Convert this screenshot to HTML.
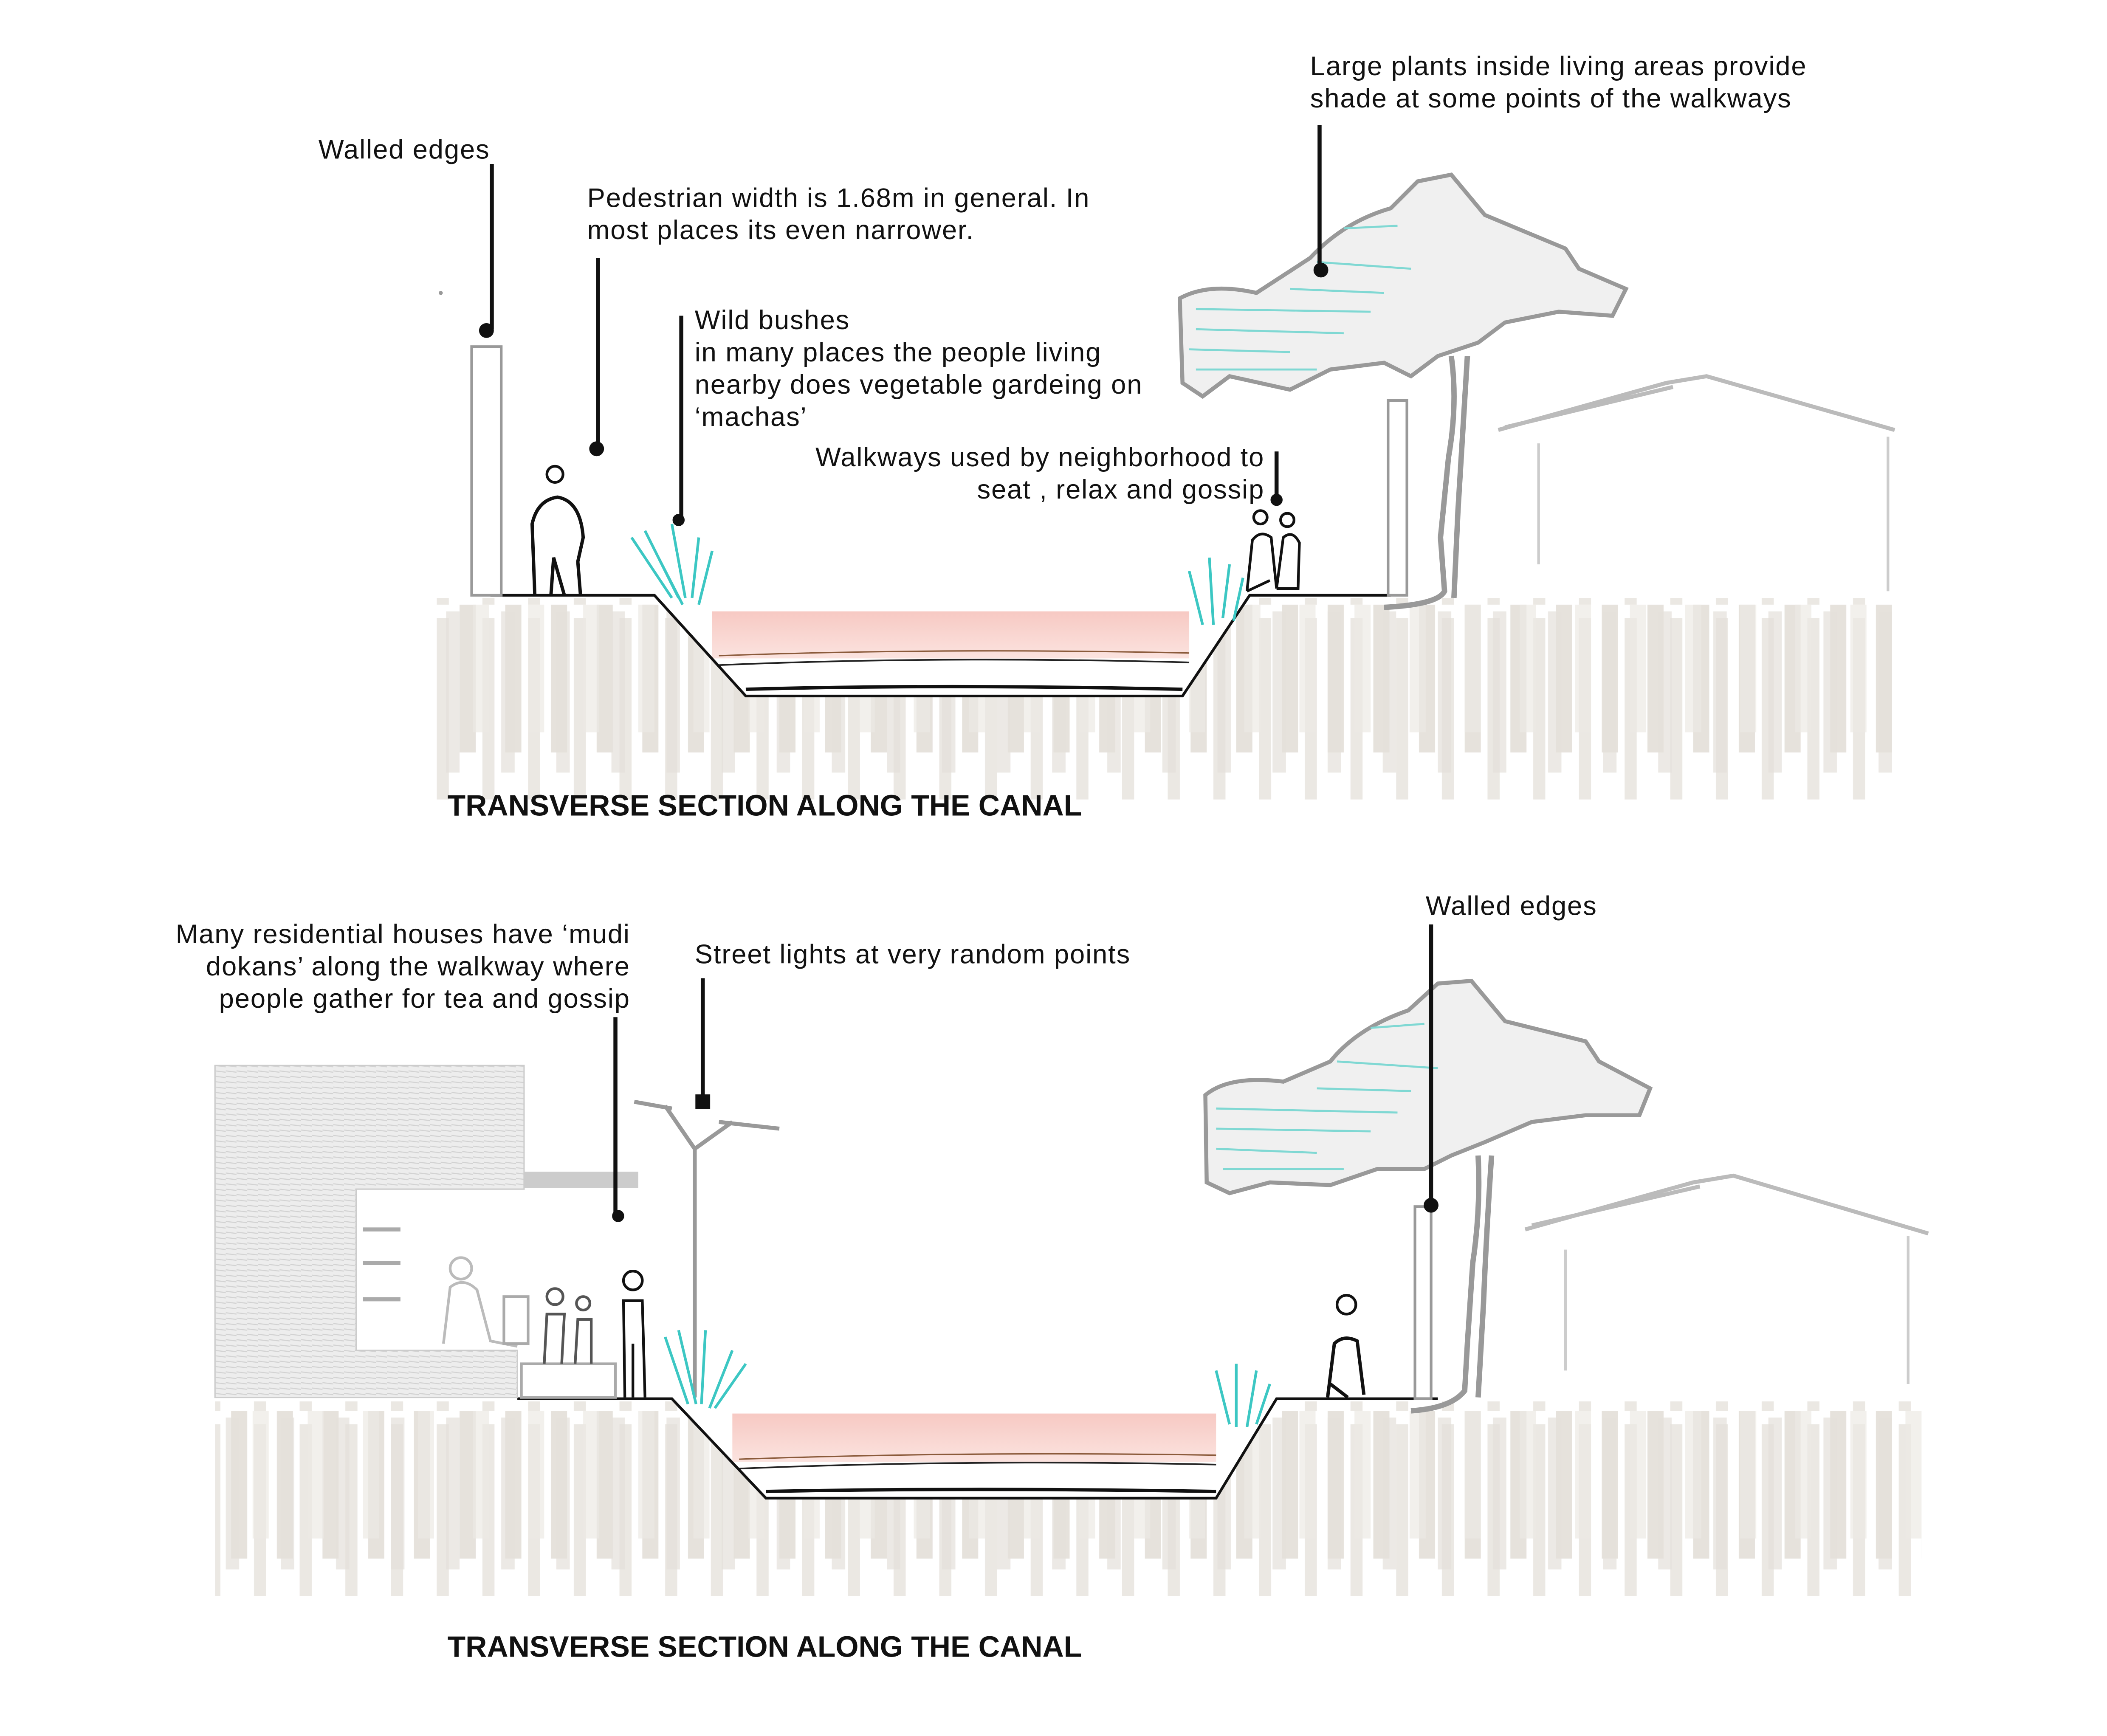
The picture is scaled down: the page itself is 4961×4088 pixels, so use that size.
<!DOCTYPE html>
<html><head><meta charset="utf-8"><style>
html,body{margin:0;padding:0;background:#fff;}
svg{display:block;}
text{font-family:"Liberation Sans",sans-serif;font-size:20px;letter-spacing:0.6px;fill:#111;}
.t{font-weight:bold;font-size:22px;letter-spacing:0;}
</style></head><body>
<svg width="4961" height="4088" viewBox="0 0 1568 1292" preserveAspectRatio="none" xmlns="http://www.w3.org/2000/svg">
<defs>
<pattern id="hatch" width="34" height="150" patternUnits="userSpaceOnUse">
<rect x="2" y="0" width="12" height="110" fill="#e6e2dc"/>
<rect x="19" y="10" width="9" height="140" fill="#ebe8e3"/>
</pattern>
<pattern id="hatch2" width="41" height="150" patternUnits="userSpaceOnUse">
<rect x="4" y="5" width="10" height="125" fill="#e4e0da"/>
<rect x="24" y="0" width="12" height="95" fill="#ece9e4"/>
</pattern>
<linearGradient id="pink" x1="0" y1="0" x2="0" y2="1">
<stop offset="0" stop-color="#f7c9c3"/><stop offset="1" stop-color="#fbe3df"/>
</linearGradient>
<pattern id="wall" width="8" height="4" patternUnits="userSpaceOnUse">
<rect width="8" height="4" fill="#ededed"/><line x1="0" y1="1" x2="8" y2="2" stroke="#d2d2d2" stroke-width="0.8"/>
</pattern>
</defs>

<!-- ===== TOP SECTION ===== -->
<rect x="325" y="445" width="1085" height="150" fill="url(#hatch)"/>
<rect x="325" y="445" width="1085" height="130" fill="url(#hatch2)" opacity="0.7"/>
<polygon points="487,443 930,443 880,518 555,518" fill="#fff"/>
<rect x="530" y="455" width="355" height="35" fill="url(#pink)"/>
<path d="M535,495 Q700,488 885,493" stroke="#222" fill="none" stroke-width="1.2"/>
<path d="M535,488 Q700,482 885,486" stroke="#8a5a3a" fill="none" stroke-width="1"/>
<path d="M555,513 Q700,509 880,513" stroke="#111" fill="none" stroke-width="2.5"/>
<polyline points="365,443 487,443 555,518 880,518 930,443 1035,443" fill="none" stroke="#111" stroke-width="2"/>
<rect x="351" y="258" width="22" height="185" fill="none" stroke="#999" stroke-width="2"/>
<circle cx="413" cy="353" r="6" fill="none" stroke="#111" stroke-width="2"/>
<path d="M398,443 L396,390 Q400,372 415,370 Q432,373 434,400 L430,418 L432,443 M410,443 L412,415 L420,443" fill="none" stroke="#111" stroke-width="2.5"/>
<g stroke="#3cc7c3" stroke-width="2" fill="none">
<path d="M470,400 L500,445 M480,395 L505,445 M500,390 L510,445 M520,400 L515,445 M530,410 L520,450 M490,415 L508,450"/>
<path d="M885,425 L895,465 M900,415 L903,465 M915,420 L910,460 M925,430 L918,462"/>
</g>
<circle cx="938" cy="385" r="5" fill="none" stroke="#111" stroke-width="2"/>
<circle cx="958" cy="387" r="5" fill="none" stroke="#111" stroke-width="2"/>
<path d="M928,440 L932,402 Q938,394 946,400 L950,438 M950,438 L955,400 Q962,394 967,404 L966,438 L950,438 M928,440 L945,432" fill="none" stroke="#111" stroke-width="2"/>
<rect x="1033" y="298" width="14" height="145" fill="none" stroke="#999" stroke-width="2"/>
<path d="M935,218 Q900,210 878,222 L880,285 L895,295 L915,280 L960,290 L990,275 L1030,270 L1050,280 L1070,265 L1100,255 L1120,240 L1160,232 L1200,235 L1210,215 L1175,200 L1165,185 L1105,160 L1080,130 L1055,135 L1035,155 Q1000,165 975,192 Z" fill="#f0f0f0" stroke="#999" stroke-width="3"/>
<g stroke="#7fd8d3" stroke-width="1.5"><path d="M890,230 L1020,232 M890,245 L1000,248 M885,260 L960,262 M890,275 L980,275 M960,215 L1030,218 M980,195 L1050,200 M1000,170 L1040,168"/></g>
<path d="M1080,265 Q1085,300 1078,340 L1072,400 L1075,440 Q1070,450 1030,452 M1092,265 Q1088,330 1085,380 L1082,445" fill="none" stroke="#999" stroke-width="4"/>
<path d="M1115,320 L1240,285 L1270,280 L1410,320 M1120,318 L1245,288" fill="none" stroke="#bbb" stroke-width="3"/>
<line x1="1145" y1="330" x2="1145" y2="420" stroke="#ccc" stroke-width="2"/>
<line x1="1405" y1="325" x2="1405" y2="440" stroke="#ccc" stroke-width="2"/>
<g stroke="#111" stroke-width="3" fill="#111">
<line x1="366" y1="122" x2="366" y2="245"/><circle cx="362" cy="246" r="4"/>
<line x1="445" y1="192" x2="445" y2="332"/><circle cx="444" cy="334" r="4"/>
<line x1="507" y1="235" x2="507" y2="385"/><circle cx="505" cy="387" r="3"/>
<line x1="950" y1="336" x2="950" y2="372"/><circle cx="950" cy="372" r="3"/>
<line x1="982" y1="93" x2="982" y2="200"/><circle cx="983" cy="201" r="4"/>
</g>
<circle cx="328" cy="218" r="1.5" fill="#999"/>
<text x="237" y="118">Walled edges</text>
<text x="437" y="154">Pedestrian width is 1.68m in general. In</text>
<text x="437" y="178">most places its even narrower.</text>
<text x="517" y="245">Wild bushes</text>
<text x="517" y="269">in many places the people living</text>
<text x="517" y="293">nearby does vegetable gardeing on</text>
<text x="517" y="317">‘machas’</text>
<text x="941" y="347" text-anchor="end">Walkways used by neighborhood to</text>
<text x="941" y="371" text-anchor="end">seat , relax and gossip</text>
<text x="975" y="56">Large plants inside living areas provide</text>
<text x="975" y="80">shade at some points of the walkways</text>
<text x="333" y="607" class="t">TRANSVERSE SECTION ALONG THE CANAL</text>

<!-- ===== BOTTOM SECTION ===== -->
<rect x="160" y="1043" width="1270" height="145" fill="url(#hatch)"/>
<rect x="160" y="1043" width="1270" height="125" fill="url(#hatch2)" opacity="0.7"/>
<polygon points="500,1041 950,1041 905,1115 570,1115" fill="#fff"/>
<rect x="545" y="1052" width="360" height="36" fill="url(#pink)"/>
<path d="M550,1093 Q720,1086 905,1090" stroke="#222" fill="none" stroke-width="1.2"/>
<path d="M550,1086 Q720,1080 905,1083" stroke="#8a5a3a" fill="none" stroke-width="1"/>
<path d="M570,1110 Q720,1107 905,1110" stroke="#111" fill="none" stroke-width="2.5"/>
<polyline points="385,1041 500,1041 570,1115 905,1115 950,1041 1070,1041" fill="none" stroke="#111" stroke-width="2"/>
<path d="M160,793 L390,793 L390,885 L265,885 L265,1005 L385,1005 L385,1040 L160,1040 Z" fill="url(#wall)" stroke="#ccc"/>
<rect x="390" y="872" width="85" height="12" fill="#ccc"/>
<g stroke="#aaa" stroke-width="3"><line x1="270" y1="915" x2="298" y2="915"/><line x1="270" y1="940" x2="298" y2="940"/><line x1="270" y1="967" x2="298" y2="967"/></g>
<circle cx="343" cy="944" r="8" fill="none" stroke="#bbb" stroke-width="2"/>
<path d="M330,1000 L335,958 Q345,950 355,960 L365,998 L385,1002" fill="none" stroke="#bbb" stroke-width="2"/>
<rect x="375" y="965" width="18" height="35" fill="none" stroke="#aaa" stroke-width="2"/>
<rect x="388" y="1015" width="70" height="25" fill="none" stroke="#aaa" stroke-width="2"/>
<circle cx="413" cy="965" r="6" fill="none" stroke="#555" stroke-width="2"/>
<circle cx="434" cy="970" r="5" fill="none" stroke="#555" stroke-width="2"/>
<path d="M405,1015 L407,978 L420,978 L418,1015 M428,1015 L430,982 L440,982 L440,1015" fill="none" stroke="#555" stroke-width="2"/>
<circle cx="471" cy="953" r="7" fill="none" stroke="#111" stroke-width="2"/>
<path d="M465,1040 L464,968 L478,968 L480,1040 M471,1000 L471,1040" fill="none" stroke="#111" stroke-width="2"/>
<path d="M517,1040 L517,855 M517,855 L495,823 M517,855 L545,835 M472,820 L500,825 M535,835 L580,840" fill="none" stroke="#999" stroke-width="3"/>
<g stroke="#3cc7c3" stroke-width="2" fill="none">
<path d="M495,995 L512,1045 M505,990 L518,1045 M525,990 L522,1045 M545,1005 L528,1048 M555,1015 L532,1048"/>
<path d="M905,1020 L915,1060 M920,1015 L920,1062 M935,1020 L928,1062 M945,1030 L935,1060"/>
</g>
<circle cx="1002" cy="971" r="7" fill="none" stroke="#111" stroke-width="2"/>
<path d="M988,1040 L993,1000 Q1000,993 1010,998 L1015,1038 M990,1030 L1003,1040" fill="none" stroke="#111" stroke-width="2.5"/>
<rect x="1053" y="898" width="12" height="143" fill="none" stroke="#999" stroke-width="2"/>
<path d="M955,805 Q915,800 897,815 L898,880 L915,888 L945,880 L990,882 L1025,870 L1060,870 L1080,860 L1105,850 L1140,835 L1180,830 L1220,830 L1228,810 L1190,790 L1180,775 L1120,760 L1095,730 L1070,732 L1048,752 Q1010,765 990,790 Z" fill="#f0f0f0" stroke="#999" stroke-width="3"/>
<g stroke="#7fd8d3" stroke-width="1.5"><path d="M905,825 L1040,828 M905,840 L1020,842 M905,855 L980,858 M910,870 L1000,870 M980,810 L1050,812 M995,790 L1070,795 M1020,765 L1060,762"/></g>
<path d="M1100,860 Q1102,900 1096,940 L1092,1000 L1090,1035 Q1080,1048 1050,1050 M1110,860 Q1106,920 1104,970 L1100,1040" fill="none" stroke="#999" stroke-width="4"/>
<path d="M1135,915 L1260,880 L1290,875 L1435,918 M1140,912 L1265,883" fill="none" stroke="#bbb" stroke-width="3"/>
<line x1="1165" y1="930" x2="1165" y2="1020" stroke="#ccc" stroke-width="2"/>
<line x1="1420" y1="920" x2="1420" y2="1030" stroke="#ccc" stroke-width="2"/>
<g stroke="#111" stroke-width="3" fill="#111">
<line x1="458" y1="757" x2="458" y2="905"/><circle cx="460" cy="905" r="3"/>
<line x1="523" y1="728" x2="523" y2="820"/><rect x="519" y="816" width="8" height="8"/>
<line x1="1065" y1="688" x2="1065" y2="897"/><circle cx="1065" cy="897" r="4"/>
</g>
<text x="469" y="702" text-anchor="end">Many residential houses have ‘mudi</text>
<text x="469" y="726" text-anchor="end">dokans’ along the walkway where</text>
<text x="469" y="750" text-anchor="end">people gather for tea and gossip</text>
<text x="517" y="717">Street lights at very random points</text>
<text x="1061" y="681">Walled edges</text>
<text x="333" y="1233" class="t">TRANSVERSE SECTION ALONG THE CANAL</text>
</svg>
</body></html>
